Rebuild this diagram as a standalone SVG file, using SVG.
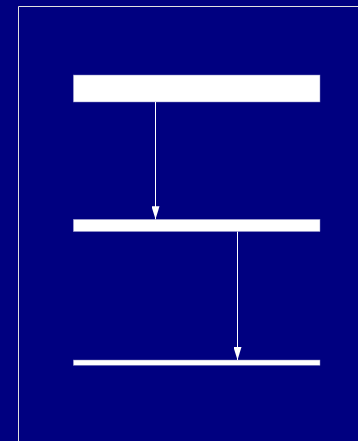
<svg xmlns="http://www.w3.org/2000/svg" width="358" height="441" viewBox="0 0 358 441">
<defs>
<style>
.node{fill:#ffffff;stroke:#8080c0;stroke-width:0.5}
.edge{stroke:#ffffff;stroke-width:1;fill:none}
</style>
<marker id="arr" markerWidth="13" markerHeight="8" refX="13" refY="4" orient="auto" markerUnits="userSpaceOnUse" viewBox="0 0 13 8">
<path d="M0,0 L13,4 L0,8 Z" fill="#ffffff"/>
</marker>
</defs>
<rect x="0" y="0" width="358" height="441" fill="#000080"/>
<path d="M18.5,441 V6.5 H358" fill="none" stroke="#e0e0e0" stroke-width="1"/>
<g id="node1"><rect class="node" x="73.3" y="75" width="246.7" height="27"/></g>
<g id="node2"><rect class="node" x="73.3" y="219.3" width="246.7" height="12.3"/></g>
<g id="node3"><rect class="node" x="73.3" y="360" width="246.7" height="5.3"/></g>
<g id="connectors">
<line class="edge" x1="155.5" y1="102" x2="155.5" y2="219.3" marker-end="url(#arr)"/>
<line class="edge" x1="237.5" y1="231.6" x2="237.5" y2="360" marker-end="url(#arr)"/>
</g>
</svg>
